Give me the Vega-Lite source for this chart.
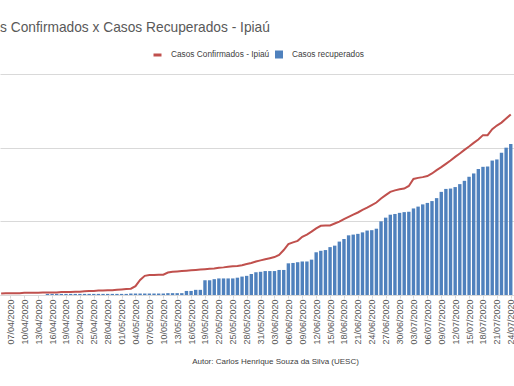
{
  "$schema": "https://vega.github.io/schema/vega-lite/v6.json",
  "width": 514,
  "height": 221,
  "autosize": {"type": "none"},
  "padding": {"left": 0, "right": 0, "top": 74, "bottom": 91},
  "background": "white",
  "config": {"view": {"stroke": null}, "font": "Liberation Sans"},
  "title": {"text": "Casos Confirmados x Casos Recuperados - Ipiaú", "anchor": "start", "frame": "group", "dx": -32, "offset": 15, "fontSize": 13.75, "font": "Liberation Sans", "fontWeight": "normal", "color": "#595959"},
  "data": {"values": [
    {"date": "2020-04-05", "confirmados": 4, "recuperados": 0},
    {"date": "2020-04-06", "confirmados": 5, "recuperados": 0},
    {"date": "2020-04-07", "confirmados": 5, "recuperados": 0},
    {"date": "2020-04-08", "confirmados": 5, "recuperados": 0},
    {"date": "2020-04-09", "confirmados": 5, "recuperados": 0},
    {"date": "2020-04-10", "confirmados": 6, "recuperados": 0},
    {"date": "2020-04-11", "confirmados": 6, "recuperados": 0},
    {"date": "2020-04-12", "confirmados": 6, "recuperados": 0},
    {"date": "2020-04-13", "confirmados": 6, "recuperados": 0},
    {"date": "2020-04-14", "confirmados": 7, "recuperados": 0},
    {"date": "2020-04-15", "confirmados": 7, "recuperados": 3},
    {"date": "2020-04-16", "confirmados": 7, "recuperados": 3},
    {"date": "2020-04-17", "confirmados": 7, "recuperados": 3},
    {"date": "2020-04-18", "confirmados": 8, "recuperados": 3},
    {"date": "2020-04-19", "confirmados": 8, "recuperados": 3},
    {"date": "2020-04-20", "confirmados": 8, "recuperados": 3},
    {"date": "2020-04-21", "confirmados": 9, "recuperados": 3},
    {"date": "2020-04-22", "confirmados": 9, "recuperados": 3},
    {"date": "2020-04-23", "confirmados": 10, "recuperados": 3},
    {"date": "2020-04-24", "confirmados": 11, "recuperados": 3},
    {"date": "2020-04-25", "confirmados": 11, "recuperados": 3},
    {"date": "2020-04-26", "confirmados": 12, "recuperados": 3},
    {"date": "2020-04-27", "confirmados": 12, "recuperados": 3},
    {"date": "2020-04-28", "confirmados": 13, "recuperados": 3},
    {"date": "2020-04-29", "confirmados": 13, "recuperados": 3},
    {"date": "2020-04-30", "confirmados": 14, "recuperados": 3},
    {"date": "2020-05-01", "confirmados": 15, "recuperados": 3},
    {"date": "2020-05-02", "confirmados": 16, "recuperados": 3},
    {"date": "2020-05-03", "confirmados": 17, "recuperados": 4},
    {"date": "2020-05-04", "confirmados": 24, "recuperados": 4},
    {"date": "2020-05-05", "confirmados": 41, "recuperados": 4},
    {"date": "2020-05-06", "confirmados": 52, "recuperados": 4},
    {"date": "2020-05-07", "confirmados": 54, "recuperados": 4},
    {"date": "2020-05-08", "confirmados": 54, "recuperados": 4},
    {"date": "2020-05-09", "confirmados": 55, "recuperados": 4},
    {"date": "2020-05-10", "confirmados": 55, "recuperados": 4},
    {"date": "2020-05-11", "confirmados": 61, "recuperados": 5},
    {"date": "2020-05-12", "confirmados": 63, "recuperados": 5},
    {"date": "2020-05-13", "confirmados": 64, "recuperados": 5},
    {"date": "2020-05-14", "confirmados": 65, "recuperados": 5},
    {"date": "2020-05-15", "confirmados": 66, "recuperados": 11},
    {"date": "2020-05-16", "confirmados": 67, "recuperados": 11},
    {"date": "2020-05-17", "confirmados": 68, "recuperados": 14},
    {"date": "2020-05-18", "confirmados": 69, "recuperados": 14},
    {"date": "2020-05-19", "confirmados": 70, "recuperados": 40},
    {"date": "2020-05-20", "confirmados": 71, "recuperados": 40},
    {"date": "2020-05-21", "confirmados": 72, "recuperados": 43},
    {"date": "2020-05-22", "confirmados": 74, "recuperados": 45},
    {"date": "2020-05-23", "confirmados": 75, "recuperados": 45},
    {"date": "2020-05-24", "confirmados": 77, "recuperados": 45},
    {"date": "2020-05-25", "confirmados": 78, "recuperados": 45},
    {"date": "2020-05-26", "confirmados": 79, "recuperados": 47},
    {"date": "2020-05-27", "confirmados": 81, "recuperados": 50},
    {"date": "2020-05-28", "confirmados": 84, "recuperados": 52},
    {"date": "2020-05-29", "confirmados": 87, "recuperados": 57},
    {"date": "2020-05-30", "confirmados": 91, "recuperados": 62},
    {"date": "2020-05-31", "confirmados": 94, "recuperados": 63},
    {"date": "2020-06-01", "confirmados": 97, "recuperados": 65},
    {"date": "2020-06-02", "confirmados": 100, "recuperados": 65},
    {"date": "2020-06-03", "confirmados": 103, "recuperados": 65},
    {"date": "2020-06-04", "confirmados": 109, "recuperados": 68},
    {"date": "2020-06-05", "confirmados": 122, "recuperados": 68},
    {"date": "2020-06-06", "confirmados": 138, "recuperados": 86},
    {"date": "2020-06-07", "confirmados": 143, "recuperados": 87},
    {"date": "2020-06-08", "confirmados": 147, "recuperados": 89},
    {"date": "2020-06-09", "confirmados": 158, "recuperados": 91},
    {"date": "2020-06-10", "confirmados": 164, "recuperados": 91},
    {"date": "2020-06-11", "confirmados": 172, "recuperados": 96},
    {"date": "2020-06-12", "confirmados": 181, "recuperados": 116},
    {"date": "2020-06-13", "confirmados": 188, "recuperados": 120},
    {"date": "2020-06-14", "confirmados": 189, "recuperados": 122},
    {"date": "2020-06-15", "confirmados": 189, "recuperados": 130},
    {"date": "2020-06-16", "confirmados": 194, "recuperados": 134},
    {"date": "2020-06-17", "confirmados": 199, "recuperados": 145},
    {"date": "2020-06-18", "confirmados": 206, "recuperados": 152},
    {"date": "2020-06-19", "confirmados": 212, "recuperados": 162},
    {"date": "2020-06-20", "confirmados": 218, "recuperados": 164},
    {"date": "2020-06-21", "confirmados": 224, "recuperados": 166},
    {"date": "2020-06-22", "confirmados": 231, "recuperados": 170},
    {"date": "2020-06-23", "confirmados": 237, "recuperados": 175},
    {"date": "2020-06-24", "confirmados": 244, "recuperados": 176},
    {"date": "2020-06-25", "confirmados": 251, "recuperados": 180},
    {"date": "2020-06-26", "confirmados": 262, "recuperados": 200},
    {"date": "2020-06-27", "confirmados": 271, "recuperados": 210},
    {"date": "2020-06-28", "confirmados": 280, "recuperados": 218},
    {"date": "2020-06-29", "confirmados": 284, "recuperados": 220},
    {"date": "2020-06-30", "confirmados": 287, "recuperados": 223},
    {"date": "2020-07-01", "confirmados": 289, "recuperados": 225},
    {"date": "2020-07-02", "confirmados": 296, "recuperados": 226},
    {"date": "2020-07-03", "confirmados": 315, "recuperados": 235},
    {"date": "2020-07-04", "confirmados": 318, "recuperados": 240},
    {"date": "2020-07-05", "confirmados": 320, "recuperados": 246},
    {"date": "2020-07-06", "confirmados": 323, "recuperados": 250},
    {"date": "2020-07-07", "confirmados": 330, "recuperados": 255},
    {"date": "2020-07-08", "confirmados": 339, "recuperados": 263},
    {"date": "2020-07-09", "confirmados": 347, "recuperados": 280},
    {"date": "2020-07-10", "confirmados": 356, "recuperados": 288},
    {"date": "2020-07-11", "confirmados": 365, "recuperados": 289},
    {"date": "2020-07-12", "confirmados": 375, "recuperados": 293},
    {"date": "2020-07-13", "confirmados": 384, "recuperados": 301},
    {"date": "2020-07-14", "confirmados": 394, "recuperados": 310},
    {"date": "2020-07-15", "confirmados": 403, "recuperados": 321},
    {"date": "2020-07-16", "confirmados": 413, "recuperados": 330},
    {"date": "2020-07-17", "confirmados": 422, "recuperados": 342},
    {"date": "2020-07-18", "confirmados": 434, "recuperados": 348},
    {"date": "2020-07-19", "confirmados": 434, "recuperados": 349},
    {"date": "2020-07-20", "confirmados": 450, "recuperados": 365},
    {"date": "2020-07-21", "confirmados": 460, "recuperados": 368},
    {"date": "2020-07-22", "confirmados": 468, "recuperados": 386},
    {"date": "2020-07-23", "confirmados": 479, "recuperados": 400},
    {"date": "2020-07-24", "confirmados": 490, "recuperados": 410}
  ]},
  "encoding": {
    "x": {
      "field": "date", "type": "temporal",
      "scale": {"type": "utc", "domain": [
        {"year": 2020, "month": 4, "date": 5, "hours": 20, "minutes": 4, "utc": true},
        {"year": 2020, "month": 7, "date": 23, "hours": 14, "minutes": 53, "utc": true}
      ]},
      "axis": {
        "format": "%d/%m/%Y",
        "values": [
          {"year": 2020, "month": 4, "date": 7, "utc": true},
          {"year": 2020, "month": 4, "date": 10, "utc": true},
          {"year": 2020, "month": 4, "date": 13, "utc": true},
          {"year": 2020, "month": 4, "date": 16, "utc": true},
          {"year": 2020, "month": 4, "date": 19, "utc": true},
          {"year": 2020, "month": 4, "date": 22, "utc": true},
          {"year": 2020, "month": 4, "date": 25, "utc": true},
          {"year": 2020, "month": 4, "date": 28, "utc": true},
          {"year": 2020, "month": 5, "date": 1, "utc": true},
          {"year": 2020, "month": 5, "date": 4, "utc": true},
          {"year": 2020, "month": 5, "date": 7, "utc": true},
          {"year": 2020, "month": 5, "date": 10, "utc": true},
          {"year": 2020, "month": 5, "date": 13, "utc": true},
          {"year": 2020, "month": 5, "date": 16, "utc": true},
          {"year": 2020, "month": 5, "date": 19, "utc": true},
          {"year": 2020, "month": 5, "date": 22, "utc": true},
          {"year": 2020, "month": 5, "date": 25, "utc": true},
          {"year": 2020, "month": 5, "date": 28, "utc": true},
          {"year": 2020, "month": 5, "date": 31, "utc": true},
          {"year": 2020, "month": 6, "date": 3, "utc": true},
          {"year": 2020, "month": 6, "date": 6, "utc": true},
          {"year": 2020, "month": 6, "date": 9, "utc": true},
          {"year": 2020, "month": 6, "date": 12, "utc": true},
          {"year": 2020, "month": 6, "date": 15, "utc": true},
          {"year": 2020, "month": 6, "date": 18, "utc": true},
          {"year": 2020, "month": 6, "date": 21, "utc": true},
          {"year": 2020, "month": 6, "date": 24, "utc": true},
          {"year": 2020, "month": 6, "date": 27, "utc": true},
          {"year": 2020, "month": 6, "date": 30, "utc": true},
          {"year": 2020, "month": 7, "date": 3, "utc": true},
          {"year": 2020, "month": 7, "date": 6, "utc": true},
          {"year": 2020, "month": 7, "date": 9, "utc": true},
          {"year": 2020, "month": 7, "date": 12, "utc": true},
          {"year": 2020, "month": 7, "date": 15, "utc": true},
          {"year": 2020, "month": 7, "date": 18, "utc": true},
          {"year": 2020, "month": 7, "date": 21, "utc": true},
          {"year": 2020, "month": 7, "date": 24, "utc": true}
        ],
        "labelAngle": 270,
        "labelFontSize": 9,
        "labelFont": "Liberation Sans",
        "labelColor": "#595959",
        "labelPadding": 1,
        "labelOverlap": false,
        "labelBound": false,
        "labelFlush": false,
        "tickSize": 3,
        "tickColor": "#d9d9d9",
        "domainColor": "#d9d9d9",
        "grid": false,
        "title": "Autor: Carlos Henrique Souza da Silva  (UESC)",
        "titleFont": "Liberation Sans",
        "titleFontSize": 8,
        "titleFontWeight": "normal",
        "titleColor": "#404040",
        "titleX": 275,
        "titleY": 66,
        "titleBaseline": "middle",
        "titleAlign": "center"
      }
    }
  },
  "layer": [
    {
      "mark": {"type": "bar", "width": 3.4, "clip": true},
      "encoding": {
        "y": {"field": "recuperados", "type": "quantitative",
          "scale": {"domain": [0, 600], "nice": false},
          "axis": {"values": [0, 200, 400, 600], "grid": true, "gridColor": "#d9d9d9", "labels": false, "ticks": false, "domain": false, "title": null}},
        "color": {"datum": "Casos recuperados", "type": "nominal",
          "scale": {"range": ["#4F81BD"]},
          "legend": {"orient": "none", "legendX": 274, "legendY": -24.5, "title": null, "symbolType": "square", "symbolSize": 64, "labelFontSize": 8.3, "labelFont": "Liberation Sans", "labelColor": "#404040", "labelOffset": 8, "padding": 0}}
      }
    },
    {
      "mark": {"type": "line", "strokeWidth": 2, "clip": true},
      "encoding": {
        "y": {"field": "confirmados", "type": "quantitative"},
        "stroke": {"datum": "Casos Confirmados - Ipiaú", "type": "nominal",
          "scale": {"range": ["#C0504D"]},
          "legend": {"orient": "none", "legendX": 152, "legendY": -24.5, "title": null, "symbolType": "stroke", "symbolSize": 64, "symbolStrokeWidth": 3, "labelFontSize": 8.3, "labelFont": "Liberation Sans", "labelColor": "#404040", "labelOffset": 8, "padding": 0}}
      }
    }
  ]
}
